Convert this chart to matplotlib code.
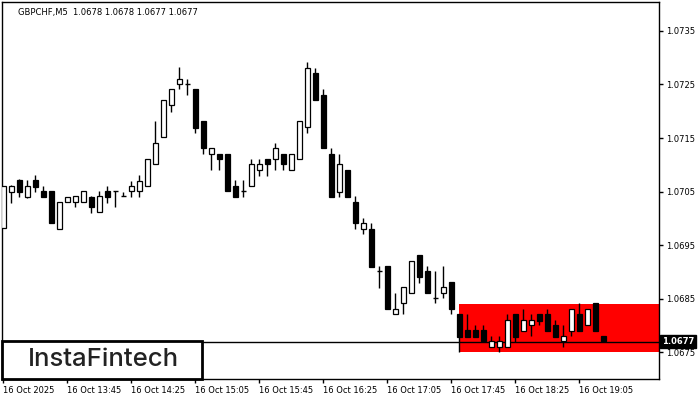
import matplotlib
matplotlib.use('Agg')
import matplotlib.pyplot as plt
import matplotlib.transforms as mtransforms
from matplotlib.patches import Rectangle

# GBPCHF M5 candles, 13:05 .. 19:20
opens = [1.06982, 1.07050, 1.07071, 1.07040, 1.07071, 1.07051, 1.07051, 1.06981,
         1.07030, 1.07030, 1.07030, 1.07040, 1.07011, 1.07051, 1.07051, 1.07042,
         1.07051, 1.07051, 1.07060, 1.07101, 1.07151, 1.07211, 1.07251, 1.07251,
         1.07241, 1.07182, 1.07121, 1.07121, 1.07121, 1.07060, 1.07051, 1.07060,
         1.07090, 1.07110, 1.07111, 1.07121, 1.07090, 1.07111, 1.07171, 1.07271,
         1.07230, 1.07121, 1.07050, 1.07090, 1.07030, 1.06981, 1.06981, 1.06902,
         1.06911, 1.06821, 1.06841, 1.06860, 1.06932, 1.06902, 1.06852, 1.06860,
         1.06881, 1.06821, 1.06792, 1.06792, 1.06792, 1.06760, 1.06760, 1.06760,
         1.06821, 1.06790, 1.06800, 1.06821, 1.06821, 1.06801, 1.06771, 1.06790,
         1.06821, 1.06800, 1.06841, 1.06780]
highs = [1.07060, 1.07062, 1.07073, 1.07071, 1.07081, 1.07060, 1.07051, 1.07030,
         1.07040, 1.07042, 1.07051, 1.07042, 1.07051, 1.07061, 1.07052, 1.07050,
         1.07070, 1.07081, 1.07110, 1.07182, 1.07221, 1.07241, 1.07282, 1.07261,
         1.07241, 1.07182, 1.07131, 1.07121, 1.07121, 1.07071, 1.07071, 1.07111,
         1.07111, 1.07110, 1.07141, 1.07121, 1.07121, 1.07182, 1.07292, 1.07281,
         1.07241, 1.07131, 1.07121, 1.07090, 1.07042, 1.07000, 1.06991, 1.06911,
         1.06911, 1.06861, 1.06871, 1.06920, 1.06932, 1.06911, 1.06902, 1.06911,
         1.06881, 1.06821, 1.06821, 1.06801, 1.06801, 1.06780, 1.06780, 1.06821,
         1.06821, 1.06831, 1.06821, 1.06821, 1.06831, 1.06810, 1.06801, 1.06831,
         1.06841, 1.06831, 1.06841, 1.06780]
lows = [1.06982, 1.07029, 1.07040, 1.07038, 1.07050, 1.07040, 1.06991, 1.06981,
        1.07030, 1.07022, 1.07030, 1.07010, 1.07011, 1.07029, 1.07021, 1.07042,
        1.07040, 1.07040, 1.07060, 1.07101, 1.07151, 1.07199, 1.07241, 1.07230,
        1.07160, 1.07120, 1.07090, 1.07090, 1.07051, 1.07040, 1.07040, 1.07060,
        1.07079, 1.07079, 1.07090, 1.07090, 1.07090, 1.07111, 1.07160, 1.07221,
        1.07131, 1.07040, 1.07040, 1.07040, 1.06981, 1.06970, 1.06910, 1.06870,
        1.06830, 1.06821, 1.06821, 1.06860, 1.06880, 1.06860, 1.06841, 1.06851,
        1.06821, 1.06750, 1.06779, 1.06779, 1.06771, 1.06760, 1.06750, 1.06760,
        1.06770, 1.06790, 1.06780, 1.06800, 1.06790, 1.06779, 1.06760, 1.06780,
        1.06790, 1.06800, 1.06790, 1.06771]
closes = [1.07060, 1.07060, 1.07050, 1.07060, 1.07059, 1.07040, 1.06991, 1.07030,
          1.07040, 1.07042, 1.07051, 1.07021, 1.07042, 1.07040, 1.07051, 1.07042,
          1.07060, 1.07070, 1.07110, 1.07140, 1.07221, 1.07241, 1.07261, 1.07251,
          1.07169, 1.07131, 1.07131, 1.07110, 1.07051, 1.07040, 1.07051, 1.07101,
          1.07101, 1.07101, 1.07131, 1.07101, 1.07121, 1.07182, 1.07280, 1.07221,
          1.07131, 1.07040, 1.07101, 1.07040, 1.06991, 1.06991, 1.06910, 1.06902,
          1.06830, 1.06830, 1.06871, 1.06920, 1.06890, 1.06860, 1.06852, 1.06871,
          1.06830, 1.06779, 1.06779, 1.06779, 1.06771, 1.06771, 1.06771, 1.06810,
          1.06779, 1.06810, 1.06810, 1.06809, 1.06790, 1.06779, 1.06780, 1.06831,
          1.06790, 1.06831, 1.06790, 1.06771]

time_labels = ['16 Oct 2025', '16 Oct 13:45', '16 Oct 14:25', '16 Oct 15:05',
               '16 Oct 15:45', '16 Oct 16:25', '16 Oct 17:05', '16 Oct 17:45',
               '16 Oct 18:25', '16 Oct 19:05']
time_tick_bars = [0, 8, 16, 24, 32, 40, 48, 56, 64, 72]
price_ticks = [1.0675, 1.0685, 1.0695, 1.0705, 1.0715, 1.0725, 1.0735]

title_text = 'GBPCHF,M5  1.0678 1.0678 1.0677 1.0677'
last_price = 1.0677
zone_start_bar = 57
zone_low, zone_high = 1.0675, 1.0684

plt.rcParams['font.family'] = ['DejaVu Sans']

fig = plt.figure(figsize=(7, 4), dpi=100)
ax = fig.add_axes([2 / 700, 21 / 400, 657 / 700, 377 / 400])

xmax = 81.96
ax.set_xlim(-0.16, xmax)
ax.set_ylim(1.06700, 1.07404)

# red pattern zone
ax.add_patch(Rectangle((zone_start_bar, zone_low), xmax - zone_start_bar,
                       zone_high - zone_low, facecolor='#ff0000',
                       edgecolor='none', zorder=1))

# bid line
ax.axhline(last_price, color='black', lw=1, zorder=2)

body_w = 0.6
for i, (o, h, l, c) in enumerate(zip(opens, highs, lows, closes)):
    ax.vlines(i, l, h, color='black', lw=1, zorder=3)
    if abs(c - o) < 1e-6:
        ax.hlines(o, i - body_w / 2, i + body_w / 2, color='black', lw=1, zorder=4)
    else:
        fc = 'white' if c > o else 'black'
        ax.add_patch(Rectangle((i - body_w / 2, min(o, c)), body_w, abs(c - o),
                               facecolor=fc, edgecolor='black', lw=0.9, zorder=4))

ax.yaxis.tick_right()
ax.set_yticks(price_ticks)
ax.set_yticklabels(['%.4f' % p for p in price_ticks])
ax.set_xticks(time_tick_bars)
ax.set_xticklabels(time_labels)
for lab in ax.get_xticklabels():
    lab.set_horizontalalignment('left')
ax.tick_params(axis='both', direction='out', length=3, width=1, labelsize=6,
               pad=2, colors='black')
for sp in ax.spines.values():
    sp.set_color('black')
    sp.set_linewidth(1)

ax.text(16 / 657, 1 - 10 / 377, title_text, transform=ax.transAxes,
        fontsize=6, va='center', ha='left', color='black')

# current price label on the right axis
trans = mtransforms.blended_transform_factory(ax.transAxes, ax.transData)
ax.text(1.004, last_price, '1.0677', transform=trans, color='white',
        fontsize=6, fontweight='bold', ha='left', va='center', clip_on=False,
        bbox=dict(facecolor='black', edgecolor='black', pad=1.5), zorder=20)

# logo box
ax.add_patch(Rectangle((0, 0), 200 / 657, 38.3 / 377, transform=ax.transAxes,
                       facecolor='white', edgecolor='black', lw=2, zorder=10,
                       clip_on=False))
ax.text(101 / 657, 19 / 377, 'InstaFintech', transform=ax.transAxes,
        fontsize=18.5, fontweight='medium', color='#222222', ha='center',
        va='center', zorder=11, family=['Inter', 'Lato', 'DejaVu Sans'])

fig.savefig('out.png', dpi=100)
